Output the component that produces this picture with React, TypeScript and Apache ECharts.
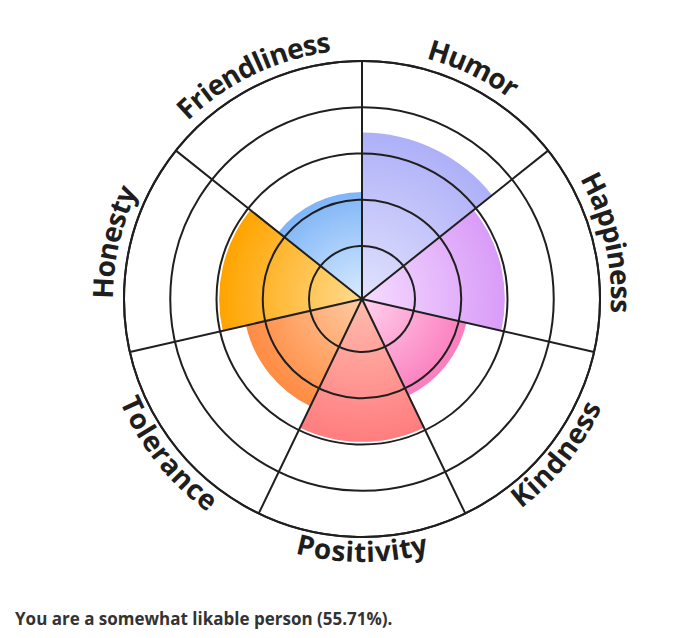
import React, { useEffect, useRef } from 'react';
import * as echarts from 'echarts';

// ---- data ----
const categories = ['Humor', 'Happiness', 'Kindness', 'Positivity', 'Tolerance', 'Honesty', 'Friendliness'];
const scores = [3.5, 3, 2.25, 3, 2.5, 3, 2.25];
const scoreMax = 5;
const ringMin = 1;
const ringStep = 1;
const innerColors = ['#e2e2fd', '#f5dcff', '#ffd3ee', '#ffbcae', '#ffcba3', '#ffdb8f', '#d9ebff'];
const outerColors = ['#aeb0f8', '#d99cf8', '#fb7dbd', '#ff7d7f', '#ff8b42', '#ffa400', '#7fb5f7'];
const summary = 'You are a somewhat likable person (55.71%).';

// ---- layout ----
const W = 680;
const H = 638;
const CX = 362;
const CY = 299;
const R = 238;
const RING_INNER = 53;
const LINE = '#1f1f1f';
const LABEL_FONT_SIZE = 28;
const LABEL_FONT = `bold ${LABEL_FONT_SIZE}px "Open Sans"`;
const LETTER_SPACING = 0;
const R_TOP_TEXT = 260;
const R_BOTTOM_TEXT = 252;

let measureCtx: CanvasRenderingContext2D | null = null;
function charWidth(ch: string, font: string) {
  if (!measureCtx) measureCtx = document.createElement('canvas').getContext('2d');
  measureCtx!.font = font;
  return measureCtx!.measureText(ch).width;
}

function arcLabel(text: string, centerDeg: number): any[] {
  const chars = text.split('');
  const widths = chars.map((c) => charWidth(c, LABEL_FONT) + LETTER_SPACING);
  const total = widths.reduce((a, b) => a + b, 0) - LETTER_SPACING;
  const bottom = centerDeg > 90 && centerDeg < 270;
  const r = bottom ? R_BOTTOM_TEXT : R_TOP_TEXT;
  const thc = (centerDeg * Math.PI) / 180;
  let acc = 0;
  return chars.map((ch, i) => {
    const s = acc + (widths[i] - LETTER_SPACING) / 2 - total / 2;
    acc += widths[i];
    const th = bottom ? thc - s / r : thc + s / r;
    const rot = bottom ? Math.PI - th : -th;
    return {
      type: 'text',
      x: CX + r * Math.sin(th),
      y: CY - r * Math.cos(th),
      rotation: rot,
      silent: true,
      style: {
        text: ch,
        font: LABEL_FONT,
        fill: '#1e1e1e',
        align: 'center',
        verticalAlign: 'middle',
        textAlign: 'center',
        textVerticalAlign: 'middle',
      },
    };
  });
}

export default function App() {
  const ref = useRef<HTMLDivElement>(null);
  useEffect(() => {
    if (!ref.current) return;
    const chart = echarts.init(ref.current, null, { renderer: 'svg' });
    const unit = R / scoreMax;
    const step = 360 / categories.length;
    const labels: any[] = [];
    categories.forEach((c, i) => {
      labels.push(...arcLabel(c, step * (i + 0.5)));
    });
    const option: any = {
      animation: false,
      polar: [
        { center: [CX, CY], radius: [0, R] },
        { center: [CX, CY], radius: [RING_INNER, R] },
      ],
      angleAxis: [
        {
          polarIndex: 0,
          type: 'category',
          data: categories,
          startAngle: 90,
          clockwise: true,
          boundaryGap: true,
          z: 10,
          axisLine: { show: true, lineStyle: { color: LINE, width: 2 } },
          axisTick: { show: false },
          axisLabel: { show: false },
          splitLine: { show: true, lineStyle: { color: LINE, width: 2 } },
        },
        { polarIndex: 1, type: 'value', min: 0, max: 360, show: false },
      ],
      radiusAxis: [
        { polarIndex: 0, type: 'value', min: 0, max: scoreMax, show: false },
        {
          polarIndex: 1,
          type: 'value',
          min: ringMin,
          max: scoreMax,
          interval: ringStep,
          z: 10,
          axisLine: { show: false },
          axisTick: { show: false },
          axisLabel: { show: false },
          splitLine: { show: true, lineStyle: { color: LINE, width: 2 } },
        },
      ],
      series: [
        {
          type: 'bar',
          coordinateSystem: 'polar',
          polarIndex: 0,
          barCategoryGap: '0%',
          z: 2,
          data: scores.map((v, i) => ({
            value: v,
            itemStyle: {
              color: {
                type: 'radial',
                x: CX,
                y: CY,
                r: v * unit,
                global: true,
                colorStops: [
                  { offset: 0, color: innerColors[i] },
                  { offset: 1, color: outerColors[i] },
                ],
              },
            },
          })),
        },
      ],
      graphic: {
        elements: [
          ...labels,
          {
            type: 'text',
            x: 15,
            y: 618,
            silent: true,
            style: {
              text: summary,
              font: 'bold 17px "Open Sans"',
              fill: '#333333',
              align: 'left',
              verticalAlign: 'middle',
              textAlign: 'left',
              textVerticalAlign: 'middle',
            },
          },
        ],
      },
    };
    chart.setOption(option);
    return () => chart.dispose();
  }, []);
  return (
    <div
      ref={ref}
      style={{ position: 'fixed', left: 0, top: 0, width: W, height: H, background: '#ffffff' }}
    />
  );
}
